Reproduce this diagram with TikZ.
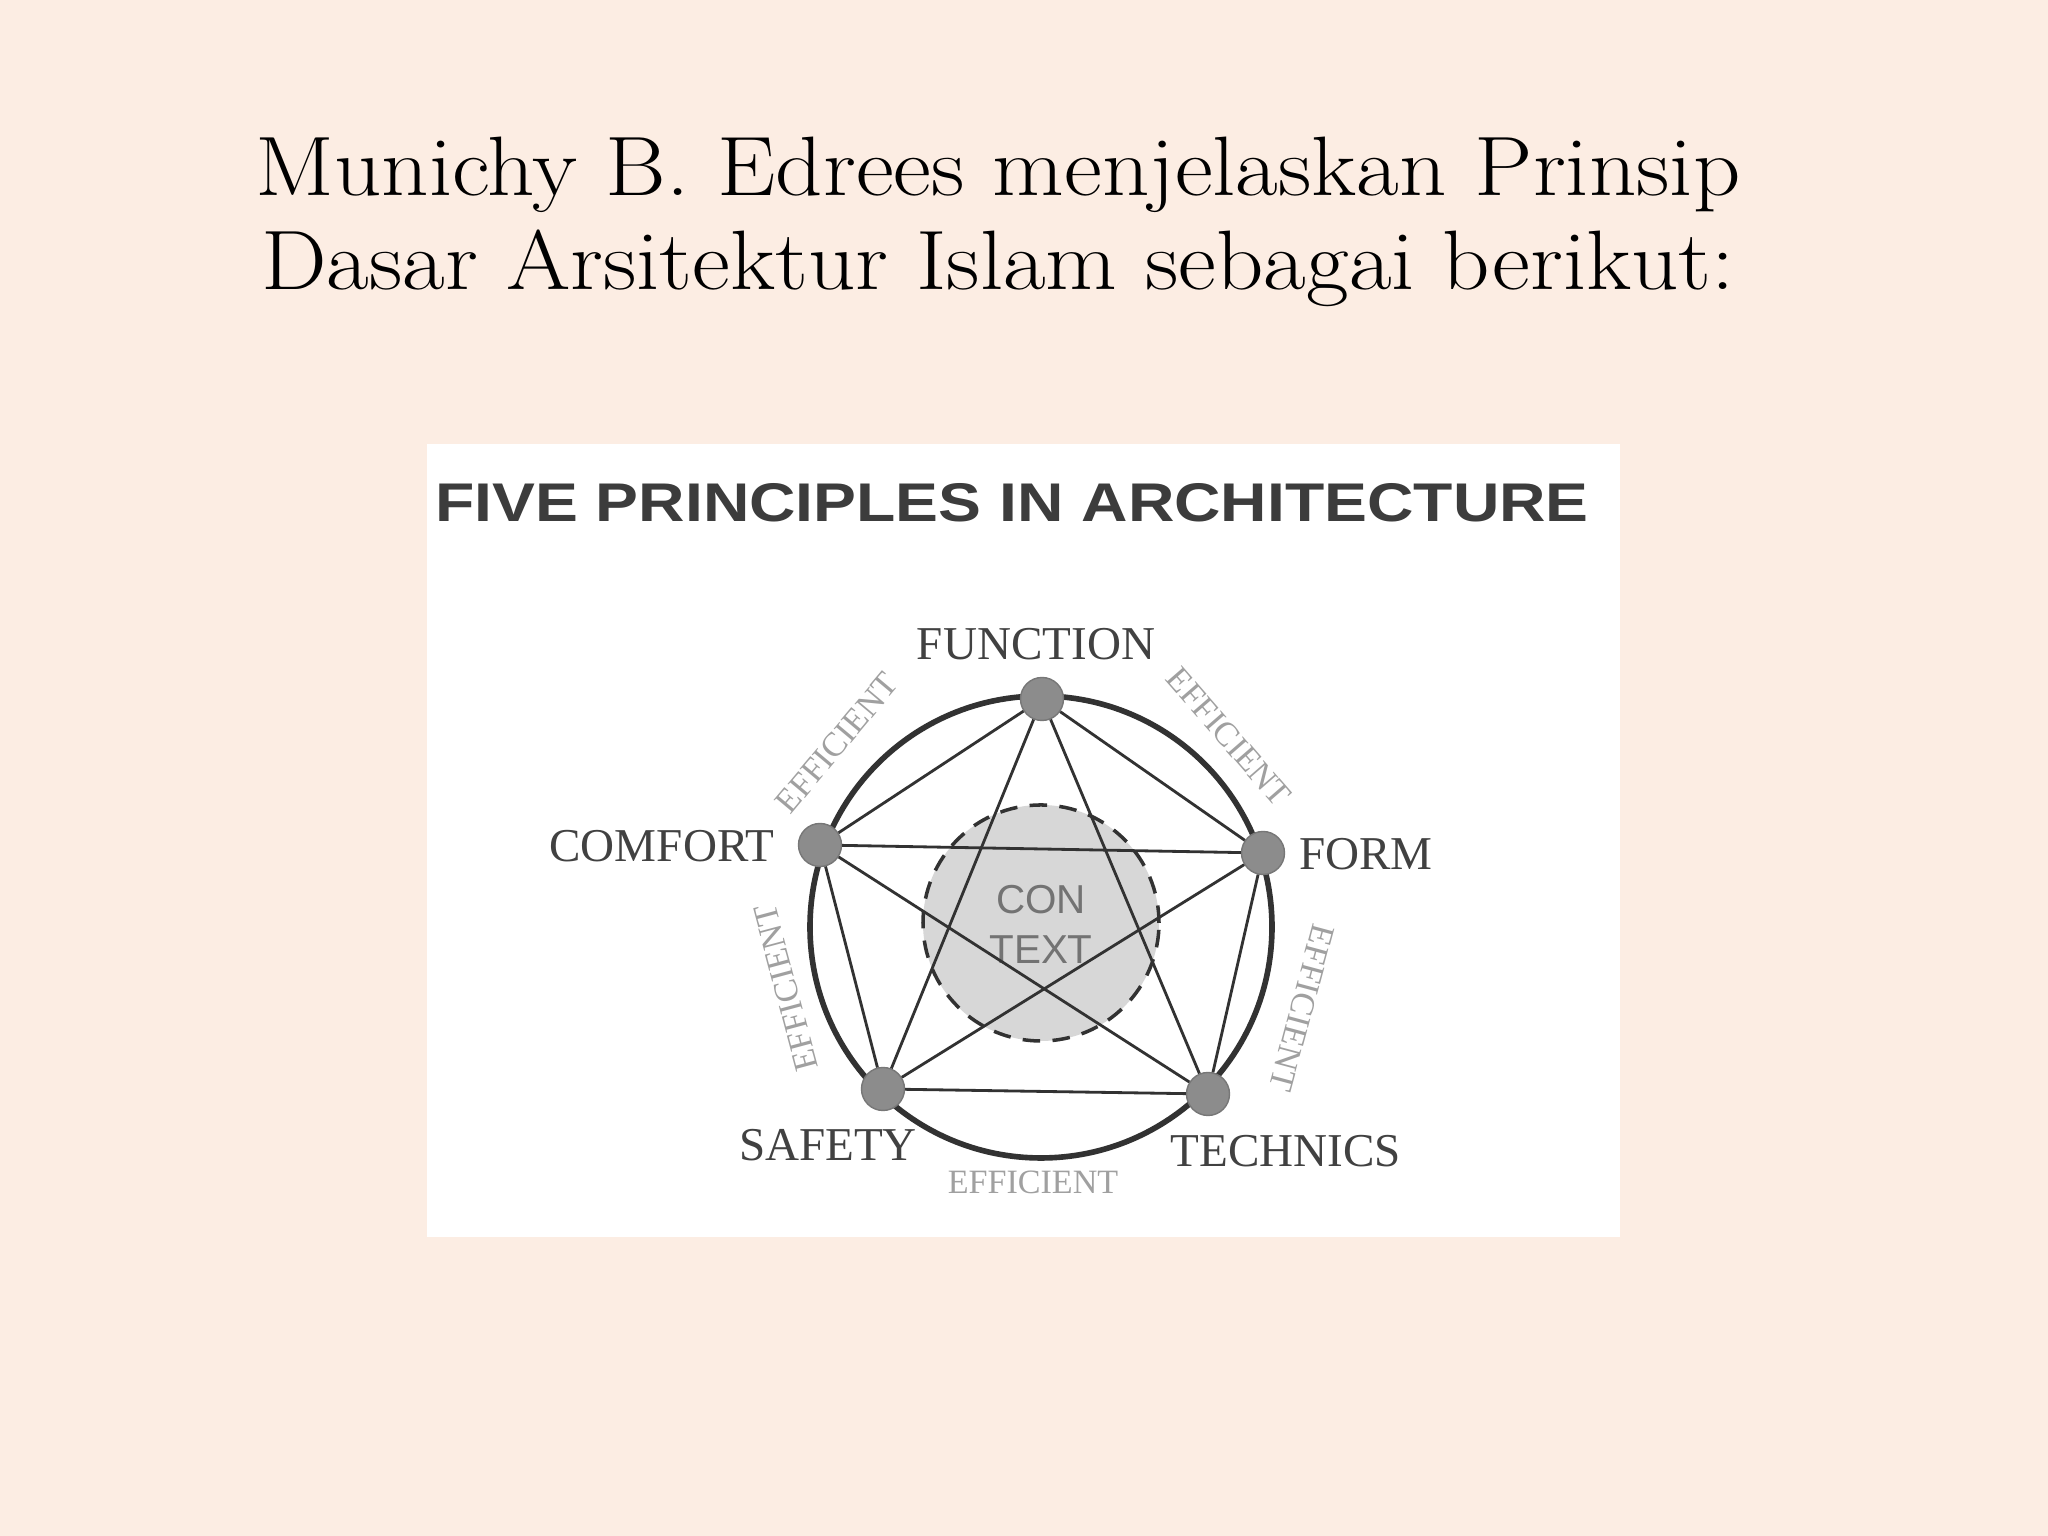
\documentclass[tikz,border=0pt]{standalone}
\usepackage{fontspec}
\newfontfamily\labelfont{Liberation Serif}
\newfontfamily\headfont{Liberation Sans}
\usetikzlibrary{positioning}
\definecolor{peach}{RGB}{252,237,227}
\definecolor{ink}{RGB}{50,50,50}
\definecolor{headgray}{RGB}{60,60,60}
\definecolor{labelgray}{RGB}{65,65,65}
\definecolor{dotgray}{RGB}{140,140,140}
\definecolor{ctxgray}{RGB}{215,215,215}
\definecolor{ctxtext}{RGB}{115,115,115}
\definecolor{effgray}{RGB}{160,160,160}

\begin{document}
\begin{tikzpicture}[
        principle/.style={font=\labelfont\fontsize{13.4}{14}\selectfont, text=labelgray, inner sep=0pt},
        efflabel/.style={font=\labelfont\fontsize{9.7}{10}\selectfont, text=effgray, inner sep=0pt},
        dot/.style={circle, fill=dotgray, draw=dotgray!85!black, line width=0.4pt, minimum size=0.43cm, inner sep=0pt},
        link/.style={draw=ink, line width=0.8pt}
    ]
            \useasboundingbox (0, 0) rectangle (20.48, 15.36);
            \fill [peach] (0, 0) rectangle (20.48, 15.36);

            \node [align=center, font=\fontsize{24}{26.7}\selectfont] (title) at (9.98, 13.14)
                {\scalebox{1.1}[1]{Munichy B. Edrees menjelaskan Prinsip}\\\scalebox{1.1}[1]{Dasar Arsitektur Islam sebagai berikut:}};

            \fill [white] (4.27, 2.99) rectangle (16.20, 10.92);
            \node [font=\headfont\bfseries\fontsize{15.5}{16}\selectfont, text=headgray, inner sep=0pt] (heading) at (10.12, 10.33)
                {\scalebox{1.18}[1]{FIVE PRINCIPLES IN ARCHITECTURE}};

            \node [circle, draw=ink, fill=ctxgray, line width=1pt, dash pattern=on 5pt off 3.5pt, minimum size=2.36cm] (context) at (10.41, 6.13) {};
            \node [align=center, font=\headfont\fontsize{11.5}{14.2}\selectfont, text=ctxtext, inner sep=0pt] (contextlabel) at (10.41, 6.12) {CON\\TEXT};

            \coordinate (hub) at (10.41, 6.09);
            \draw [ink, line width=1.6pt] (hub) circle (2.31);

            \node [dot] (function) at (10.42, 8.37) {};
            \node [dot] (comfort) at (8.20, 6.91) {};
            \node [dot] (form) at (12.63, 6.83) {};
            \node [dot] (safety) at (8.83, 4.47) {};
            \node [dot] (technics) at (12.08, 4.42) {};

            \foreach \a/\b in {function/comfort, function/form, function/safety, function/technics,
                comfort/form, comfort/safety, comfort/technics, form/safety, form/technics, safety/technics}
                \draw [link] (\a) -- (\b);

            \node [principle] (functionlabel) at (10.36, 8.92) {FUNCTION};
            \node [principle] (comfortlabel) at (6.62, 6.90) {COMFORT};
            \node [principle] (formlabel) at (13.66, 6.82) {FORM};
            \node [principle] (safetylabel) at (8.28, 3.91) {SAFETY};
            \node [principle] (technicslabel) at (12.86, 3.85) {TECHNICS};

            \node [efflabel, rotate=50] (effA) at (8.37, 7.93) {EFFICIENT};
            \node [efflabel, rotate=-49] (effB) at (12.29, 7.99) {EFFICIENT};
            \node [efflabel, rotate=105] (effC) at (7.86, 5.48) {EFFICIENT};
            \node [efflabel, rotate=-105] (effD) at (13.02, 5.28) {EFFICIENT};
            \node [efflabel] (effE) at (10.33, 3.54) {EFFICIENT};
        \end{tikzpicture}
\end{document}
